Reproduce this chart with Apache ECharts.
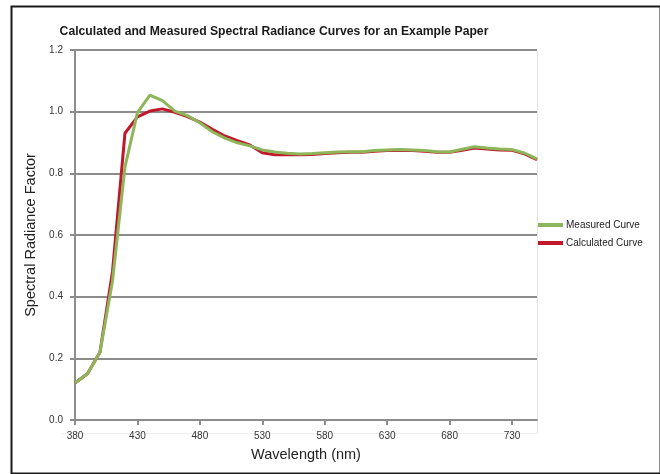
<!DOCTYPE html>
<html>
<head>
<meta charset="utf-8">
<script src="https://cdn.jsdelivr.net/npm/echarts@6/dist/echarts.min.js"></script>
<style>
html,body{margin:0;padding:0;background:#fff;}
#chart{width:660px;height:474px;}
</style>
</head>
<body>
<div id="chart"></div>
<script>
var wavelengths = [380,390,400,410,420,430,440,450,460,470,480,490,500,510,520,530,540,550,560,570,580,590,600,610,620,630,640,650,660,670,680,690,700,710,720,730,740,750];
var measured = [0.12,0.15,0.22,0.45,0.82,0.997,1.054,1.036,1.002,0.987,0.964,0.935,0.914,0.899,0.889,0.876,0.869,0.865,0.863,0.864,0.867,0.869,0.870,0.870,0.874,0.876,0.877,0.876,0.874,0.870,0.869,0.878,0.886,0.882,0.879,0.877,0.866,0.847];
var calculated = [0.12,0.15,0.22,0.48,0.93,0.983,1.002,1.009,0.998,0.984,0.966,0.943,0.921,0.906,0.892,0.867,0.860,0.860,0.860,0.861,0.864,0.867,0.868,0.868,0.872,0.874,0.875,0.874,0.872,0.868,0.868,0.875,0.882,0.879,0.876,0.875,0.863,0.844];
var yTicks = [0.0,0.2,0.4,0.6,0.8,1.0,1.2];
var titleText = 'Calculated and Measured Spectral Radiance Curves for an Example Paper';
var xTitle = 'Wavelength (nm)';
var yTitle = 'Spectral Radiance Factor';
var seriesNames = ['Measured Curve','Calculated Curve'];

var FONT = '"Liberation Sans", Arial, Helvetica, sans-serif';
var GREEN = '#8db65a';
var RED = '#c0182a';
var GRID = '#8c8c8c';

var chart = echarts.init(document.getElementById('chart'), null, {renderer:'canvas'});
chart.setOption({
  backgroundColor:'#ffffff',
  animation:false,
  title:{
    text:titleText,
    left:269, top:21, textAlign:'center',
    textStyle:{fontFamily:FONT,fontSize:12.2,fontWeight:'bold',color:'#1a1a1a'}
  },
  legend:{
    orient:'vertical',
    left:538, top:220, padding:0,
    itemWidth:25, itemHeight:4, itemGap:8,
    icon:'rect',
    data:[seriesNames[0],seriesNames[1]],
    textStyle:{fontFamily:FONT,fontSize:10,color:'#222',padding:[0,0,0,-2]}
  },
  grid:{left:75,right:123,top:50,bottom:54,containLabel:false},
  xAxis:{
    type:'category',
    data:wavelengths,
    boundaryGap:false,
    name:xTitle,
    nameLocation:'middle',
    nameGap:27,
    nameTextStyle:{fontFamily:FONT,fontSize:14.5,color:'#222'},
    axisLine:{lineStyle:{color:GRID,width:2}},
    axisTick:{show:true,interval:4,length:5,lineStyle:{color:GRID,width:2}},
    axisLabel:{interval:4,margin:11,fontFamily:FONT,fontSize:10,color:'#333'},
    splitLine:{show:false}
  },
  yAxis:{
    type:'value',
    min:0,max:1.2,interval:0.2,
    name:yTitle,
    nameLocation:'middle',
    nameGap:32,
    nameRotate:90,
    nameTextStyle:{fontFamily:FONT,fontSize:14.5,color:'#222'},
    axisLine:{show:true,lineStyle:{color:GRID,width:2}},
    axisTick:{show:true,length:5,lineStyle:{color:GRID,width:2}},
    axisLabel:{margin:12,fontFamily:FONT,fontSize:10,color:'#333',
      formatter:function(v){return v.toFixed(1);}},
    splitLine:{show:true,lineStyle:{color:GRID,width:2}}
  },
  graphic:[
    {type:'rect',left:9,top:4,shape:{x:0,y:0,width:649,height:467},
     style:{fill:'none',stroke:'#1a1a1a',lineWidth:2},silent:true,z:100},
    {type:'line',shape:{x1:537.5,y1:50,x2:537.5,y2:433},style:{stroke:'#e6e6e6',lineWidth:1},silent:true,z:-1},
    {type:'line',shape:{x1:62,y1:433.5,x2:537.5,y2:433.5},style:{stroke:'#eeeeee',lineWidth:1},silent:true,z:-1}
  ],
  series:[
    {name:seriesNames[1],type:'line',data:calculated,showSymbol:false,symbol:'none',
     lineStyle:{color:RED,width:3},itemStyle:{color:RED},z:2},
    {name:seriesNames[0],type:'line',data:measured,showSymbol:false,symbol:'none',
     lineStyle:{color:GREEN,width:3},itemStyle:{color:GREEN},z:3}
  ]
});
</script>
</body>
</html>
